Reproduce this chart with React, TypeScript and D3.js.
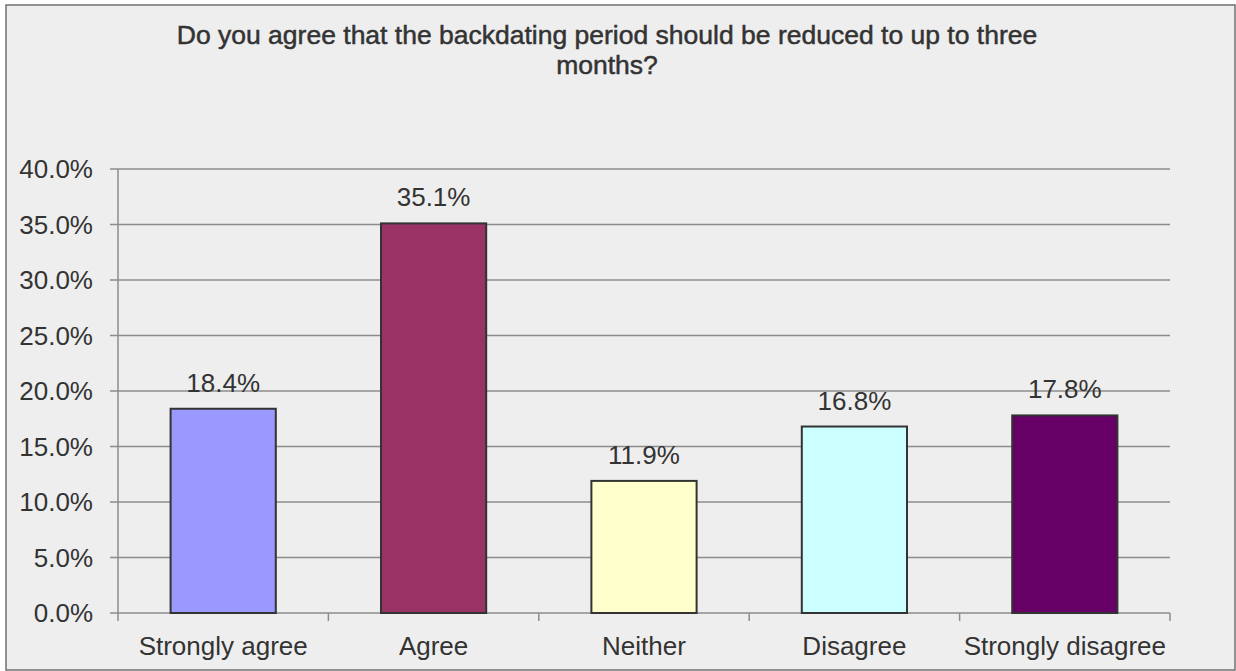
import React from "react";
import * as d3 from "d3";

const categories = ["Strongly agree", "Agree", "Neither", "Disagree", "Strongly disagree"];
const values = [18.4, 35.1, 11.9, 16.8, 17.8];
const barColors = ["#9999FF", "#993366", "#FFFFCC", "#CCFFFF", "#660066"];
const yTicks = [0, 5, 10, 15, 20, 25, 30, 35, 40];
const titleLines = ["Do you agree that the backdating period should be reduced to up to three", "months?"];

const W = 1236;
const H = 671;
const plot = { left: 118, right: 1170, top: 169, bottom: 613 };
const FONT = "'Liberation Sans', Arial, sans-serif";
const TEXT = "#333333";
const FS = 26;

export default function App() {
  const x = d3.scaleBand<string>().domain(categories).range([plot.left, plot.right]).paddingInner(0).paddingOuter(0);
  const y = d3.scaleLinear().domain([0, 40]).range([plot.bottom, plot.top]);
  const bw = x.bandwidth();
  const barW = bw * 0.5;
  const boundaries = d3.range(categories.length + 1).map((i) => plot.left + i * bw);

  return (
    <svg width={W} height={H} style={{ position: "absolute", left: 0, top: 0, display: "block" }} fontFamily={FONT}>
      <rect x={0} y={0} width={W} height={H} fill="#ffffff" />
      <rect x={6} y={5} width={1229} height={665} fill="#eeeeee" stroke="#707070" strokeWidth={1.5} />
      {titleLines.map((t, i) => (
        <text key={i} x={607} y={44 + i * 30} textAnchor="middle" fontSize={26.5} fill={TEXT} stroke={TEXT} strokeWidth={0.5}>
          {t}
        </text>
      ))}
      {yTicks.map((t) => (
        <g key={t}>
          <line x1={110} x2={plot.right} y1={y(t)} y2={y(t)} stroke="#8c8c8c" strokeWidth={1.5} />
          <text x={93} y={y(t)} dy="0.36em" textAnchor="end" fontSize={FS} fill={TEXT}>
            {t.toFixed(1) + "%"}
          </text>
        </g>
      ))}
      <line x1={plot.left} x2={plot.left} y1={plot.top} y2={plot.bottom} stroke="#8c8c8c" strokeWidth={1.5} />
      {boundaries.map((b, i) => (
        <line key={i} x1={b} x2={b} y1={plot.bottom} y2={plot.bottom + 8} stroke="#8c8c8c" strokeWidth={1.5} />
      ))}
      {categories.map((c, i) => {
        const cx = (x(c) as number) + bw / 2;
        return (
          <g key={c}>
            <rect x={cx - barW / 2} y={y(values[i])} width={barW} height={plot.bottom - y(values[i])} fill={barColors[i]} stroke="#333333" strokeWidth={2} />
            <text x={cx} y={y(values[i]) - 17} textAnchor="middle" fontSize={FS} fill={TEXT}>
              {values[i].toFixed(1) + "%"}
            </text>
            <text x={cx} y={655} textAnchor="middle" fontSize={FS} fill={TEXT}>
              {c}
            </text>
          </g>
        );
      })}
    </svg>
  );
}
